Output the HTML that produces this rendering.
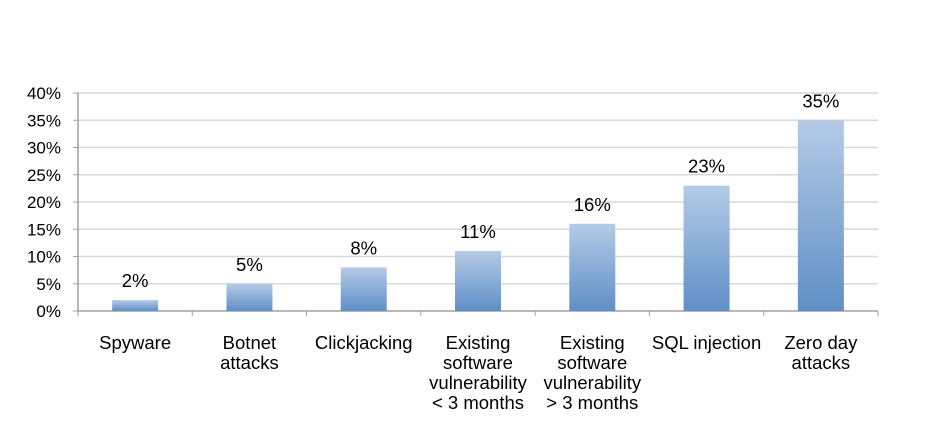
<!DOCTYPE html>
<html><head><meta charset="utf-8"><style>
body{margin:0;background:#fff;}
svg{display:block;font-family:"Liberation Sans",Arial,sans-serif;}
</style></head><body>
<svg id="chart" width="945" height="447" xmlns="http://www.w3.org/2000/svg">
<defs><linearGradient id="g" x1="0" y1="0" x2="0" y2="1"><stop offset="0" stop-color="#b4cbe7"/><stop offset="1" stop-color="#5f8fc6"/></linearGradient></defs>
</svg>
<script>
const categories=[["Spyware"],["Botnet","attacks"],["Clickjacking"],["Existing","software","vulnerability","< 3 months"],["Existing","software","vulnerability","> 3 months"],["SQL injection"],["Zero day","attacks"]];
const values=[2,5,8,11,16,23,35];
const valueLabels=["2%","5%","8%","11%","16%","23%","35%"];
const ticks=[0,5,10,15,20,25,30,35,40];
const tickLabels=["0%","5%","10%","15%","20%","25%","30%","35%","40%"];
const svg=document.getElementById('chart');const NS="http://www.w3.org/2000/svg";
const L=78,R=878,Y0=311,Y1=93,max=40;
const y=v=>Y0-(Y0-Y1)*v/max;const band=(R-L)/categories.length;const x=i=>L+band*(i+0.5);
function mk(t,a,p){const e=document.createElementNS(NS,t);for(const k in a)e.setAttribute(k,a[k]);(p||svg).appendChild(e);return e;}
ticks.forEach((t,i)=>{
 if(t>0){const g=mk('line',{x1:L,x2:R,y1:y(t),y2:y(t),stroke:'#d9d9d9','stroke-width':1.5});
 
 }
 const tx=mk('text',{x:61,y:y(t)+6,'text-anchor':'end','font-size':17,fill:'#000'});tx.textContent=tickLabels[i];
 
 
 const tk=mk('line',{x1:L-5,x2:L,y1:y(t),y2:y(t),stroke:'#a0a0a0'});
 
 
});
const ya=mk('line',{x1:L,x2:L,y1:Y1,y2:Y0,stroke:'#a0a0a0','stroke-width':1.5});


const xa=mk('line',{x1:L,x2:R,y1:Y0,y2:Y0,stroke:'#a0a0a0','stroke-width':1.5});


for(let i=0;i<=categories.length;i++){const t=mk('line',{x1:L+band*i,x2:L+band*i,y1:Y0,y2:Y0+5,stroke:'#a0a0a0'});
 
 }
values.forEach((v,i)=>{
 const b=mk('rect',{x:x(i)-23,y:y(v),width:46,height:Y0-y(v),fill:'url(#g)'});
 
 
 const t=mk('text',{x:x(i),y:y(v)-13,'text-anchor':'middle','font-size':18.5,fill:'#000'});t.textContent=valueLabels[i];
 
 
 categories[i].forEach((ln,j)=>{const c=mk('text',{x:x(i),y:349+j*20,'text-anchor':'middle','font-size':18.5,fill:'#000'});c.textContent=ln;
  
  });
});
</script>
</body></html>
